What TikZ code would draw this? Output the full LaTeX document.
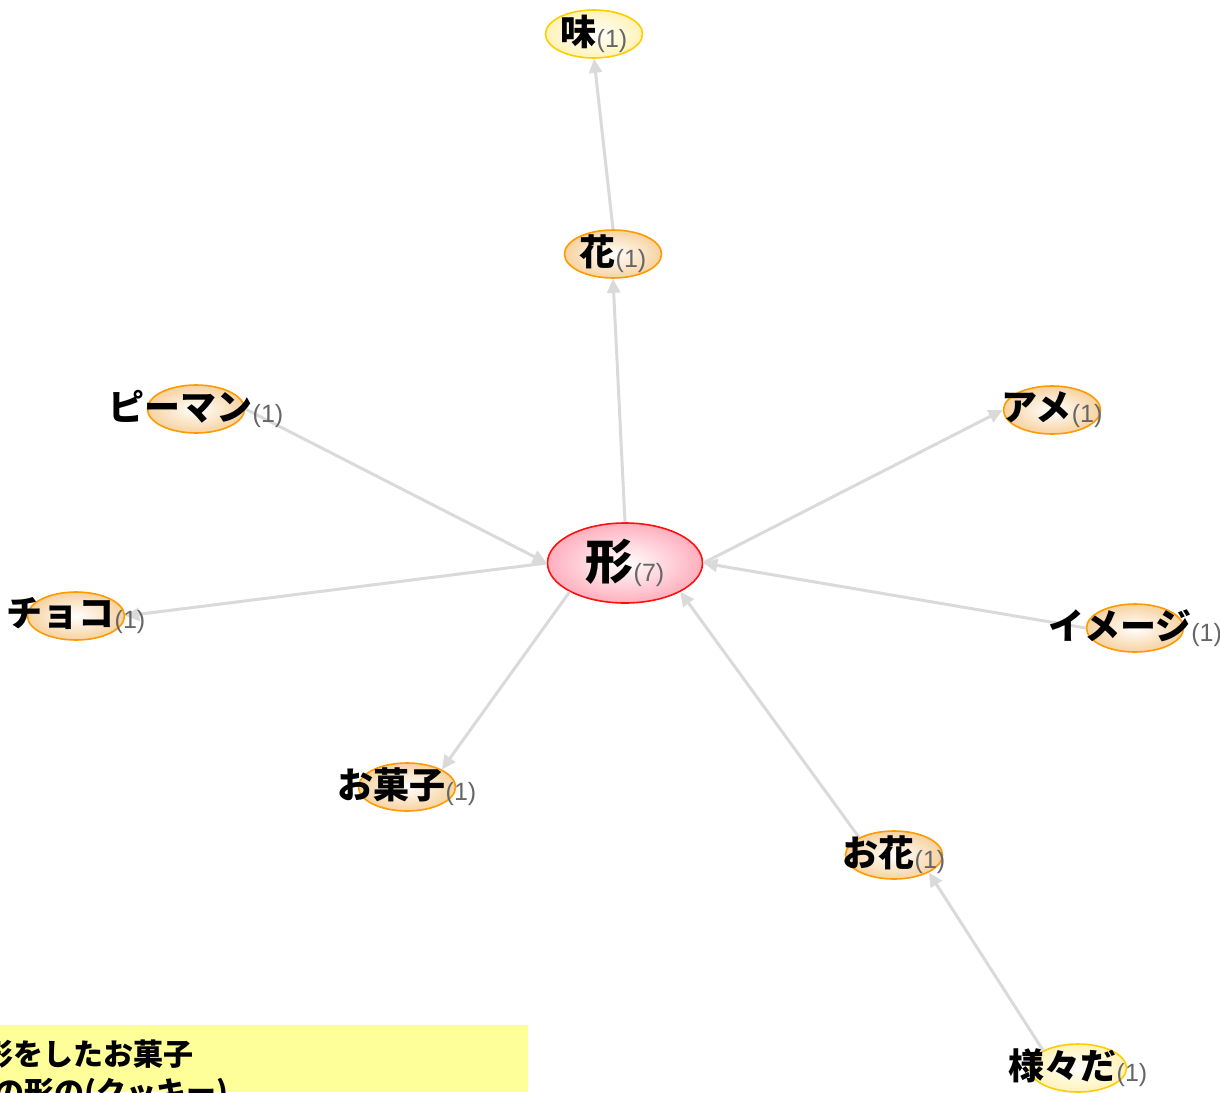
\documentclass[tikz,border=0pt]{standalone}
\usepackage{fontspec}
\usetikzlibrary{shapes.geometric,arrows.meta}
\newfontfamily\jp{Noto Sans CJK JP}
\newfontfamily\arialf{Liberation Sans}
\definecolor{edgec}{HTML}{DADADA}
\definecolor{orangeb}{HTML}{FF9A00}
\definecolor{orangef}{HTML}{F7D2A0}
\definecolor{yellowb}{HTML}{FFCC00}
\definecolor{yellowf}{HTML}{FFF3B8}
\definecolor{redb}{HTML}{FF1010}
\definecolor{pinkf}{HTML}{FFAFBE}
\definecolor{cntc}{HTML}{666666}
\definecolor{boxc}{HTML}{FFFF99}
\newcommand\cnt[1]{{\arialf\fontsize{25}{28}\selectfont\color{cntc}\raisebox{-2pt}{(#1)}}}
\newcommand\smalllab[2]{{\jp\bfseries\fontsize{36}{40}\selectfont #1}\cnt{#2}}
\tikzset{
  nd/.style={ellipse, minimum width=97pt, minimum height=48pt, inner sep=0pt, line width=1.6pt},
  orng/.style={nd, draw=orangeb, inner color=white, outer color=orangef},
  ylw/.style={nd, draw=yellowb, inner color=white, outer color=yellowf},
  pnk/.style={nd, minimum width=155pt, minimum height=80pt, draw=redb, inner color=white, outer color=pinkf},
  edge/.style={draw=edgec, line width=3pt, -{Triangle[length=14pt,width=13pt]}},
  lab/.style={inner sep=0pt, text=black},
  boxtext/.style={inner sep=0pt, anchor=base west, font=\jp\bfseries\fontsize{30}{34}\selectfont}
}
\begin{document}
\begin{tikzpicture}[x=1pt,y=-1pt]
\useasboundingbox (0,0) rectangle (1220,1092);
% ellipses
\node[ylw]  (aji)   at (594,34)   {};
\node[orng] (hana)  at (613,254)  {};
\node[orng] (pman)  at (196,409)  {};
\node[orng] (ame)   at (1052,410) {};
\node[pnk]  (kata)  at (625,563)  {};
\node[orng] (choko) at (76,616)   {};
\node[orng] (image) at (1135,628) {};
\node[orng] (okashi) at (407,787) {};
\node[orng] (ohana) at (894,855)  {};
\node[ylw]  (sama)  at (1078,1068) {};
% edges
\draw[edge] (hana.north) -- (aji.south);
\draw[edge] (kata.north) -- (hana.south);
\draw[edge] (pman.east) -- (kata.west);
\draw[edge] (kata.east) -- (ame.west);
\draw[edge] (kata.west) -- (choko.east);
\draw[edge] (image.west) -- (kata.east);
\draw[edge] (kata.south west) -- (okashi.north east);
\draw[edge] (ohana.north west) -- (kata.south east);
\draw[edge] (sama.north west) -- (ohana.south east);
% labels
\node[lab] (aji-t)   at (aji)    {\smalllab{味}{1}};
\node[lab] (hana-t)  at (hana)   {\smalllab{花}{1}};
\node[lab] (pman-t)  at (pman)   {\smalllab{ピーマン}{1}};
\node[lab] (ame-t)   at (ame)    {\smalllab{アメ}{1}};
\node[lab] (kata-t)  at (kata)   {{\jp\bfseries\fontsize{48}{52}\selectfont 形}\cnt{7}};
\node[lab] (choko-t) at (choko)  {\smalllab{チョコ}{1}};
\node[lab] (image-t) at (image)  {\smalllab{イメージ}{1}};
\node[lab] (okashi-t) at (okashi) {\smalllab{お菓子}{1}};
\node[lab] (ohana-t) at (ohana)  {\smalllab{お花}{1}};
\node[lab] (sama-t)  at (sama)   {\smalllab{様々だ}{1}};
% bottom-left box
\fill[boxc] (0,1025) rectangle (528,1092);
\node[boxtext] (box1) at (-17,1065) {形をしたお菓子};
\node[boxtext] (box2) at (-6,1103) {の形の(クッキー)};
\end{tikzpicture}
\end{document}
